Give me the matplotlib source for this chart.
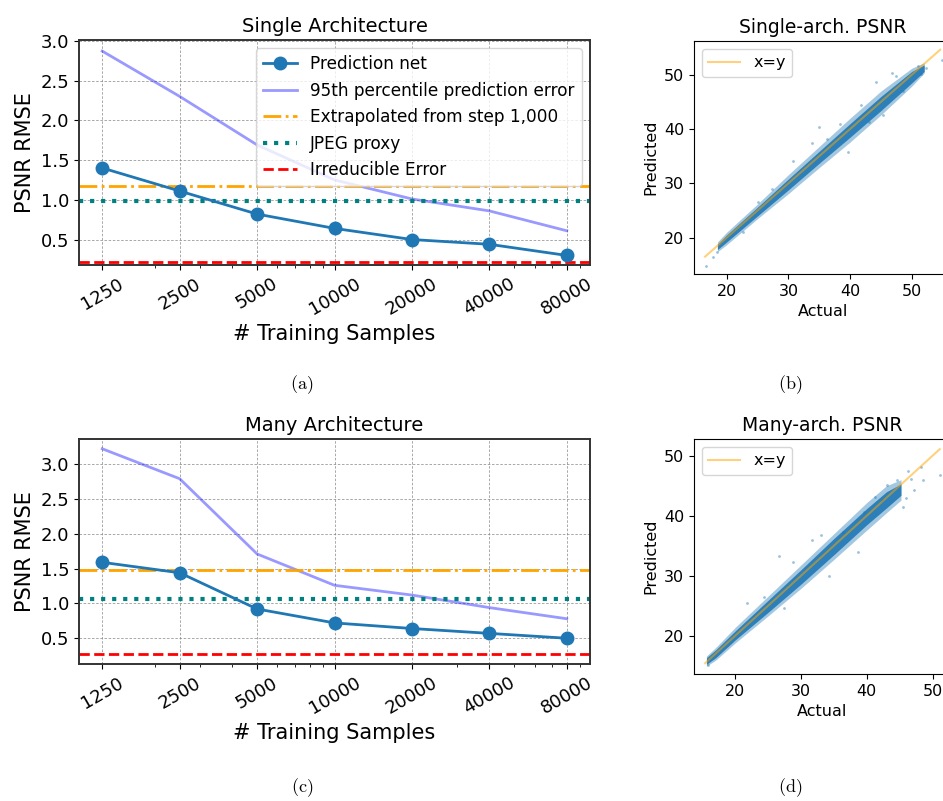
import matplotlib

matplotlib.use("Agg")
import matplotlib.pyplot as plt

plt.rcParams["mathtext.fontset"] = "cm"

# --- learning-curve data ----------------------------------------------------
samples = [1250, 2500, 5000, 10000, 20000, 40000, 80000]

single_rmse = [1.40, 1.11, 0.82, 0.64, 0.50, 0.44, 0.30]
single_p95 = [2.87, 2.30, 1.69, 1.25, 1.01, 0.86, 0.61]
single_extrap = 1.17
single_jpeg = 0.99
single_irreducible = 0.215

many_rmse = [1.59, 1.44, 0.92, 0.72, 0.64, 0.57, 0.50]
many_p95 = [3.22, 2.79, 1.71, 1.26, 1.12, 0.94, 0.78]
many_extrap = 1.48
many_jpeg = 1.06
many_irreducible = 0.275

# --- predicted-vs-actual clouds: estimated envelope of the dense core, plus
# the stray points that sit outside it ----------------------------------------
single_band_x = [18.5, 20, 25, 30, 35, 40, 45, 50, 52]
single_core_lo = [17.8, 19.2, 24.0, 28.8, 33.7, 38.5, 43.4, 48.5, 50.6]
single_core_hi = [18.8, 20.5, 25.6, 30.8, 35.9, 41.0, 46.0, 50.6, 51.8]
single_halo_lo = [17.4, 18.7, 23.5, 28.1, 32.9, 37.6, 42.6, 47.9, 50.3]
single_halo_hi = [19.2, 21.0, 26.2, 31.6, 36.8, 42.0, 47.0, 51.2, 52.2]
single_out_x = [16.6, 54.9, 51.5, 44.2, 46.8, 34.9, 38.4, 33.9, 30.8, 39.7, 45.4, 18.5,
                22.7, 17.8, 52.3, 51.0, 48.6, 41.8, 36.2, 27.3, 25.0, 43.0, 47.5]
single_out_y = [14.7, 52.7, 50.1, 48.6, 50.4, 40.3, 41.0, 37.4, 34.1, 35.8, 42.6, 17.4,
                21.1, 16.4, 51.3, 51.6, 47.0, 44.5, 38.2, 28.9, 26.6, 41.2, 49.7]
single_diag = [16.5, 54.6]

many_band_x = [15.6, 17, 20, 25, 30, 35, 40, 43, 45.2]
many_core_lo = [15.2, 16.3, 19.3, 23.9, 28.6, 33.5, 38.5, 41.3, 43.4]
many_core_hi = [16.3, 17.6, 20.8, 25.9, 31.0, 36.2, 41.2, 44.0, 45.3]
many_halo_lo = [14.9, 15.9, 18.8, 23.3, 27.9, 32.7, 37.6, 40.5, 42.6]
many_halo_hi = [16.6, 18.0, 21.4, 26.6, 31.8, 37.0, 42.2, 45.0, 46.0]
many_out_x = [26.6, 21.8, 27.4, 34.2, 38.6, 31.6, 42.3, 45.5, 46.3, 51.1, 48.5, 48.3,
              43.0, 28.8, 36.4, 15.9, 47.2, 46.8, 44.6, 45.9, 41.2, 33.0, 24.3, 39.5]
many_out_y = [33.3, 25.5, 24.6, 30.0, 33.9, 35.9, 42.6, 41.5, 47.5, 46.8, 45.9, 48.2,
              45.1, 32.2, 37.3, 15.1, 44.3, 46.1, 46.0, 43.0, 43.2, 36.7, 26.5, 40.6]
many_diag = [15.4, 51.1]


def curve_panel(ax, title, rmse, p95, extrap, jpeg, irreducible, ylim, legend):
    ax.plot(samples, rmse, color="#1f77b4", lw=2, marker="o", ms=9,
            label="Prediction net", zorder=4)
    ax.plot(samples, p95, color="blue", alpha=0.4, lw=2,
            label="95th percentile prediction error")
    ax.axhline(extrap, color="orange", ls="-.", lw=2,
               label="Extrapolated from step 1,000")
    ax.axhline(jpeg, color="teal", ls=":", lw=3, label="JPEG proxy")
    ax.axhline(irreducible, color="red", ls="--", lw=2, label="Irreducible Error")
    ax.set_xscale("log")
    ax.set_xticks(samples)
    ax.set_xticklabels([str(s) for s in samples], rotation=30, fontsize=13)
    ax.set_ylim(*ylim)
    ax.set_yticks([0.5, 1.0, 1.5, 2.0, 2.5, 3.0])
    ax.tick_params(axis="y", labelsize=13)
    ax.grid(True, which="major", ls=(0, (3, 2)), color="gray", lw=0.6, alpha=0.8)
    ax.set_xlabel("# Training Samples", fontsize=15)
    ax.set_ylabel("PSNR RMSE", fontsize=15)
    ax.set_title(title, fontsize=14)
    for sp in ax.spines.values():
        sp.set_linewidth(1.4)
        sp.set_color("#333333")
    if legend:
        ax.legend(loc="upper right", fontsize=12.2, framealpha=0.8)


def scatter_panel(ax, title, bx, clo, chi, hlo, hhi, ox, oy, diag, xlim, ylim, ticks):
    ax.fill_between(bx, hlo, hhi, color="#1f77b4", alpha=0.4, lw=0)
    ax.fill_between(bx, clo, chi, color="#1f77b4", alpha=0.9, lw=0)
    ax.scatter(ox, oy, s=4, color="#1f77b4", alpha=0.45, lw=0)
    ax.plot(diag, diag, color="orange", alpha=0.5, lw=1.5, label="x=y")
    ax.set_xlim(*xlim)
    ax.set_ylim(*ylim)
    ax.set_xticks(ticks)
    ax.set_yticks(ticks)
    ax.tick_params(labelsize=11.5)
    ax.set_xlabel("Actual", fontsize=11.5)
    ax.set_ylabel("Predicted", fontsize=11.5)
    ax.set_title(title, fontsize=13.5)
    ax.legend(loc="upper left", fontsize=11.5)


fig = plt.figure(figsize=(9.43, 8.01), dpi=100)

ax_a = fig.add_axes([0.0838, 0.6692, 0.5419, 0.2809])
ax_c = fig.add_axes([0.0838, 0.1710, 0.5419, 0.2809])
ax_b = fig.add_axes([0.7359, 0.6579, 0.2736, 0.2909])
ax_d = fig.add_axes([0.7359, 0.1586, 0.2725, 0.2934])

curve_panel(ax_a, "Single Architecture", single_rmse, single_p95, single_extrap,
            single_jpeg, single_irreducible, (0.18, 3.01), legend=True)
curve_panel(ax_c, "Many Architecture", many_rmse, many_p95, many_extrap,
            many_jpeg, many_irreducible, (0.13, 3.36), legend=False)

scatter_panel(ax_b, "Single-arch. PSNR", single_band_x, single_core_lo, single_core_hi,
              single_halo_lo, single_halo_hi, single_out_x, single_out_y, single_diag,
              (14.7, 56.5), (13.3, 56.2), [20, 30, 40, 50])
scatter_panel(ax_d, "Many-arch. PSNR", many_band_x, many_core_lo, many_core_hi,
              many_halo_lo, many_halo_hi, many_out_x, many_out_y, many_diag,
              (13.7, 52.8), (13.6, 52.8), [20, 30, 40, 50])

# sub-figure captions
for x, y, lab in [(302, 385, "a"), (790, 385, "b"), (302, 788, "c"), (790, 788, "d")]:
    fig.text(x / 943, 1 - y / 801, r"$\mathrm{(%s)}$" % lab, ha="center",
             va="center", fontsize=13)

fig.savefig("out.png", dpi=100)
